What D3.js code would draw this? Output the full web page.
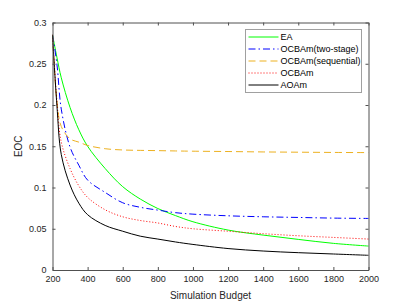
<!DOCTYPE html>
<html>
<head>
<meta charset="utf-8">
<script src="https://cdn.jsdelivr.net/npm/d3@7/dist/d3.min.js"></script>
<style>
  body { margin: 0; background: #fff; }
  svg { display: block; font-family: "Liberation Sans", Arial, sans-serif; }
</style>
</head>
<body>
<div id="chart"></div>
<script>
// budgets sampled along the x axis
const budgets = [200, 225, 250, 300, 350, 400, 500, 600, 700, 800, 900, 1000, 1200, 1400, 1600, 1800, 2000];

const eaValues      = [0.285, 0.258, 0.233, 0.197, 0.170, 0.150, 0.123, 0.101, 0.086, 0.0745, 0.066, 0.0585, 0.0484, 0.0423, 0.0371, 0.0323, 0.029];
const twoStageVals  = [0.285, 0.250, 0.195, 0.149, 0.127, 0.109, 0.094, 0.0815, 0.076, 0.0726, 0.0695, 0.0677, 0.0657, 0.0645, 0.0637, 0.0629, 0.0625];
const sequentialVals = [0.285, 0.205, 0.174, 0.159, 0.155, 0.151, 0.147, 0.1455, 0.145, 0.1447, 0.1443, 0.144, 0.1436, 0.1431, 0.1428, 0.1425, 0.1423];
const ocbamValues   = [0.285, 0.205, 0.155, 0.123, 0.102, 0.088, 0.073, 0.0645, 0.060, 0.057, 0.0528, 0.050, 0.047, 0.044, 0.0415, 0.0395, 0.0375];
const aoamValues    = [0.285, 0.200, 0.140, 0.103, 0.081, 0.067, 0.054, 0.047, 0.041, 0.0375, 0.034, 0.031, 0.026, 0.023, 0.021, 0.0194, 0.0178];

const seriesNames = ['EA', 'OCBAm(two-stage)', 'OCBAm(sequential)', 'OCBAm', 'AOAm'];
const xTicks = [200, 400, 600, 800, 1000, 1200, 1400, 1600, 1800, 2000];
const yTicks = [0, 0.05, 0.1, 0.15, 0.2, 0.25, 0.3];

const series = [
  {name: seriesNames[0], values: eaValues, color: '#00ff00', dash: null},
  {name: seriesNames[1], values: twoStageVals, color: '#0000ff', dash: '7,3,1.5,3'},
  {name: seriesNames[2], values: sequentialVals, color: '#EDB120', dash: '7,4'},
  {name: seriesNames[3], values: ocbamValues, color: '#ff0000', dash: '1,2'},
  {name: seriesNames[4], values: aoamValues, color: '#000000', dash: null}
];

const width = 407, height = 305;
const margin = {top: 22.5, right: 38.5, bottom: 35, left: 52.5};
const axisColor = '#505050';
const fontFamily = '"Liberation Sans", Arial, sans-serif';

const svg = d3.select('#chart').append('svg')
  .attr('width', width)
  .attr('height', height);

const x = d3.scaleLinear().domain([200, 2000]).range([margin.left, width - margin.right]);
const y = d3.scaleLinear().domain([0, 0.3]).range([height - margin.bottom, margin.top]);

// lines
const line = d3.line()
  .x((d, i) => x(budgets[i]))
  .y(d => y(d))
  .curve(d3.curveCatmullRom.alpha(0.5));

svg.append('g')
  .selectAll('path')
  .data(series)
  .join('path')
    .attr('fill', 'none')
    .attr('stroke', d => d.color)
    .attr('stroke-width', 1)
    .attr('stroke-dasharray', d => d.dash)
    .attr('d', d => line(d.values));

// axes, MATLAB-like box with inward ticks
const xAxis = svg.append('g')
  .attr('transform', `translate(0,${y(0)})`)
  .call(d3.axisBottom(x).tickValues(xTicks).tickSizeInner(-3).tickSizeOuter(0).tickPadding(6).tickFormat(d3.format('d')));
const xTop = svg.append('g')
  .attr('transform', `translate(0,${y(0.3)})`)
  .call(d3.axisTop(x).tickValues(xTicks).tickSizeInner(-3).tickSizeOuter(0).tickFormat(''));
const yAxis = svg.append('g')
  .attr('transform', `translate(${x(200)},0)`)
  .call(d3.axisLeft(y).tickValues(yTicks).tickSizeInner(-3).tickSizeOuter(0).tickPadding(6).tickFormat(d3.format('')));
const yRight = svg.append('g')
  .attr('transform', `translate(${x(2000)},0)`)
  .call(d3.axisRight(y).tickValues(yTicks).tickSizeInner(-3).tickSizeOuter(0).tickFormat(''));

[xAxis, xTop, yAxis, yRight].forEach(g => {
  g.selectAll('path, line').attr('stroke', axisColor);
  g.selectAll('text').attr('fill', '#262626').attr('font-size', 9)
    .attr('font-family', fontFamily);
});

// axis labels
svg.append('text')
  .attr('x', (x(200) + x(2000)) / 2)
  .attr('y', 299)
  .attr('text-anchor', 'middle')
  .attr('font-size', 10)
  .attr('fill', '#262626')
  .text('Simulation Budget');

svg.append('text')
  .attr('transform', `translate(22,${(y(0) + y(0.3)) / 2}) rotate(-90)`)
  .attr('text-anchor', 'middle')
  .attr('font-size', 10)
  .attr('fill', '#262626')
  .text('EOC');

// legend
const legend = svg.append('g').attr('transform', 'translate(245.5,29.5)');
legend.append('rect')
  .attr('width', 116)
  .attr('height', 63)
  .attr('fill', '#fff')
  .attr('stroke', '#a0a0a0')
  .attr('stroke-width', 1);

const item = legend.selectAll('g.item')
  .data(series)
  .join('g')
    .attr('class', 'item')
    .attr('transform', (d, i) => `translate(0,${7.5 + i * 12})`);

item.append('line')
  .attr('x1', 3).attr('x2', 33)
  .attr('stroke', d => d.color)
  .attr('stroke-width', 1)
  .attr('stroke-dasharray', d => d.dash);

item.append('text')
  .attr('x', 35)
  .attr('dy', '0.35em')
  .attr('font-size', 9)
  .attr('fill', '#000')
  .text(d => d.name);
</script>
</body>
</html>
